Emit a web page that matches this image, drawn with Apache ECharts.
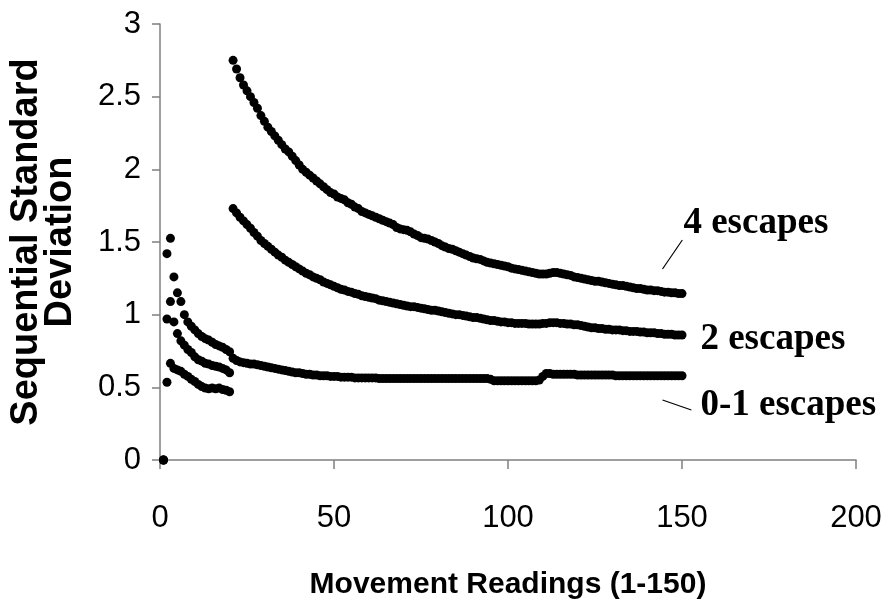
<!DOCTYPE html>
<html>
<head>
<meta charset="utf-8">
<script src="https://cdn.jsdelivr.net/npm/echarts@6/dist/echarts.min.js"></script>
<style>html,body{margin:0;padding:0;background:#fff;}#chart{width:886px;height:607px;}</style>
</head>
<body>
<div id="chart"></div>
<script>
// Movement reading index runs 1..150 (array position + 1)
const xTicks = [0, 50, 100, 150, 200];
const yTicks = [0, 0.5, 1, 1.5, 2, 2.5, 3];
const seriesNames = ['0-1 escapes', '2 escapes', '4 escapes'];

const escapes01 = [
  0, 1.42, 1.525, 1.26, 1.15, 1.09, 1.00, 0.95, 0.92, 0.895,
  0.87, 0.85, 0.835, 0.825, 0.81, 0.795, 0.785, 0.775, 0.76, 0.745,
  0.70, 0.685, 0.675, 0.67, 0.665, 0.66, 0.66, 0.655, 0.65, 0.645,
  0.64, 0.635, 0.63, 0.625, 0.62, 0.615, 0.61, 0.605, 0.60, 0.60,
  0.595, 0.59, 0.59, 0.585, 0.585, 0.58, 0.58, 0.58, 0.575, 0.575,
  0.575, 0.57, 0.57, 0.57, 0.57, 0.565, 0.565, 0.565, 0.565, 0.565,
  0.565, 0.565, 0.56, 0.56, 0.56, 0.56, 0.56, 0.56, 0.56, 0.56,
  0.56, 0.56, 0.56, 0.56, 0.56, 0.56, 0.56, 0.56, 0.56, 0.56,
  0.56, 0.56, 0.56, 0.56, 0.56, 0.56, 0.56, 0.56, 0.56, 0.56,
  0.56, 0.56, 0.56, 0.56, 0.555, 0.545, 0.545, 0.545, 0.545, 0.545,
  0.545, 0.545, 0.545, 0.545, 0.545, 0.545, 0.545, 0.545, 0.55, 0.575,
  0.595, 0.595, 0.59, 0.59, 0.59, 0.59, 0.59, 0.59, 0.59, 0.585,
  0.585, 0.585, 0.585, 0.585, 0.585, 0.585, 0.585, 0.585, 0.585, 0.585,
  0.58, 0.58, 0.58, 0.58, 0.58, 0.58, 0.58, 0.58, 0.58, 0.58,
  0.58, 0.58, 0.58, 0.58, 0.58, 0.58, 0.58, 0.58, 0.58, 0.58
];

const escapes2 = [
  0, 0.97, 1.09, 0.95, 0.87, 0.82, 0.79, 0.76, 0.74, 0.71,
  0.69, 0.68, 0.665, 0.66, 0.65, 0.645, 0.64, 0.63, 0.62, 0.60,
  1.73, 1.70, 1.67, 1.645, 1.62, 1.595, 1.565, 1.54, 1.51, 1.49,
  1.47, 1.45, 1.43, 1.41, 1.395, 1.375, 1.36, 1.345, 1.33, 1.315,
  1.30, 1.285, 1.275, 1.26, 1.25, 1.24, 1.225, 1.215, 1.205, 1.195,
  1.185, 1.175, 1.17, 1.16, 1.155, 1.145, 1.14, 1.13, 1.125, 1.12,
  1.115, 1.11, 1.10, 1.095, 1.09, 1.085, 1.08, 1.075, 1.07, 1.065,
  1.06, 1.055, 1.055, 1.05, 1.045, 1.04, 1.035, 1.03, 1.03, 1.025,
  1.02, 1.015, 1.01, 1.005, 1.00, 1.00, 0.995, 0.99, 0.985, 0.98,
  0.98, 0.975, 0.97, 0.965, 0.96, 0.96, 0.955, 0.95, 0.95, 0.945,
  0.945, 0.94, 0.94, 0.94, 0.94, 0.935, 0.935, 0.935, 0.935, 0.94,
  0.94, 0.945, 0.945, 0.945, 0.94, 0.94, 0.935, 0.935, 0.93, 0.93,
  0.925, 0.92, 0.915, 0.91, 0.91, 0.905, 0.905, 0.90, 0.90, 0.895,
  0.895, 0.895, 0.89, 0.89, 0.885, 0.885, 0.885, 0.88, 0.88, 0.875,
  0.875, 0.875, 0.87, 0.87, 0.865, 0.865, 0.865, 0.86, 0.86, 0.86
];

const escapes4 = [
  0, 0.535, 0.665, 0.63, 0.62, 0.61, 0.59, 0.575, 0.555, 0.54,
  0.52, 0.505, 0.495, 0.49, 0.495, 0.49, 0.495, 0.485, 0.48, 0.47,
  2.75, 2.69, 2.63, 2.58, 2.54, 2.50, 2.46, 2.42, 2.37, 2.33,
  2.29, 2.26, 2.23, 2.20, 2.17, 2.14, 2.12, 2.09, 2.06, 2.03,
  2.00, 1.98, 1.96, 1.94, 1.92, 1.90, 1.88, 1.86, 1.84, 1.83,
  1.81, 1.80, 1.79, 1.77, 1.76, 1.74, 1.73, 1.71, 1.70, 1.69,
  1.68, 1.67, 1.66, 1.65, 1.64, 1.63, 1.62, 1.60, 1.59, 1.585,
  1.58, 1.57, 1.555, 1.545, 1.53, 1.525, 1.52, 1.51, 1.50, 1.49,
  1.475, 1.465, 1.455, 1.45, 1.44, 1.43, 1.42, 1.41, 1.40, 1.39,
  1.385, 1.38, 1.37, 1.36, 1.355, 1.35, 1.345, 1.34, 1.335, 1.33,
  1.32, 1.315, 1.31, 1.305, 1.30, 1.295, 1.29, 1.285, 1.28, 1.28,
  1.28, 1.285, 1.29, 1.29, 1.285, 1.28, 1.275, 1.27, 1.26, 1.255,
  1.25, 1.245, 1.24, 1.235, 1.23, 1.23, 1.225, 1.22, 1.215, 1.21,
  1.205, 1.20, 1.20, 1.195, 1.19, 1.185, 1.18, 1.18, 1.175, 1.17,
  1.17, 1.165, 1.165, 1.16, 1.155, 1.155, 1.15, 1.15, 1.145, 1.145
];

const toPoints = arr => arr.map((v, i) => [i + 1, v]);
const axisGrey = '#7f7f7f';
const labelFont = { fontFamily: 'Liberation Serif, Times New Roman, serif', fontWeight: 'bold', fontSize: 37, color: '#000' };

const chart = echarts.init(document.getElementById('chart'), null, { renderer: 'canvas' });

function annotation(text, coord) {
  return {
    coord: coord, symbol: 'rect', symbolSize: 1,
    itemStyle: { color: 'rgba(0,0,0,0)' },
    label: Object.assign({ show: true, position: 'inside', formatter: text, align: 'left', verticalAlign: 'middle' }, labelFont)
  };
}

const dotStyle = { color: '#000', opacity: 1, borderWidth: 0 };

chart.setOption({
  animation: false,
  backgroundColor: '#fff',
  grid: { left: 158, right: 30, top: 24, bottom: 147, containLabel: false },
  xAxis: {
    type: 'value', min: xTicks[0], max: xTicks[xTicks.length - 1], interval: 50,
    name: 'Movement Readings (1-150)', nameLocation: 'middle', nameGap: 110,
    nameTextStyle: { fontFamily: 'Liberation Sans, Arial, sans-serif', fontWeight: 'bold', fontSize: 30, color: '#000' },
    axisLine: { show: true, onZero: false, lineStyle: { color: axisGrey, width: 1.5 } },
    axisTick: { show: true, inside: false, length: 9, lineStyle: { color: axisGrey, width: 1.5 } },
    axisLabel: { margin: 43, fontFamily: 'Liberation Sans, Arial, sans-serif', fontSize: 31, color: '#000' },
    splitLine: { show: false }
  },
  yAxis: {
    type: 'value', min: yTicks[0], max: yTicks[yTicks.length - 1], interval: 0.5,
    name: 'Sequential Standard\nDeviation', nameLocation: 'middle', nameGap: 82, nameRotate: 90,
    nameTextStyle: { fontFamily: 'Liberation Sans, Arial, sans-serif', fontWeight: 'bold', fontSize: 38, lineHeight: 34, color: '#000', align: 'center' },
    axisLine: { show: true, lineStyle: { color: axisGrey, width: 1.5 } },
    axisTick: { show: true, inside: false, length: 8, lineStyle: { color: axisGrey, width: 1.5 } },
    axisLabel: { margin: 19, fontFamily: 'Liberation Sans, Arial, sans-serif', fontSize: 31, color: '#000' },
    splitLine: { show: false }
  },
  series: [
    {
      name: seriesNames[0], type: 'scatter', symbol: 'circle', symbolSize: 9,
      itemStyle: dotStyle, data: toPoints(escapes01), clip: false,
      markLine: {
        silent: true, symbol: ['none', 'none'], label: { show: false },
        lineStyle: { color: '#000', width: 1.2, type: 'solid' },
        data: [ [ { coord: [144.4, 0.413] }, { coord: [152.7, 0.344] } ] ]
      },
      markPoint: { silent: true, data: [ annotation('0-1 escapes', [155.3, 0.378]) ] }
    },
    {
      name: seriesNames[1], type: 'scatter', symbol: 'circle', symbolSize: 9,
      itemStyle: dotStyle, data: toPoints(escapes2), clip: false,
      markPoint: { silent: true, data: [ annotation('2 escapes', [155.3, 0.832]) ] }
    },
    {
      name: seriesNames[2], type: 'scatter', symbol: 'circle', symbolSize: 9,
      itemStyle: dotStyle, data: toPoints(escapes4), clip: false,
      markLine: {
        silent: true, symbol: ['none', 'none'], label: { show: false },
        lineStyle: { color: '#000', width: 1.2, type: 'solid' },
        data: [ [ { coord: [150.1, 1.514] }, { coord: [144.4, 1.314] } ] ]
      },
      markPoint: { silent: true, data: [ annotation('4 escapes', [150.4, 1.63]) ] }
    }
  ]
});
</script>
</body>
</html>
